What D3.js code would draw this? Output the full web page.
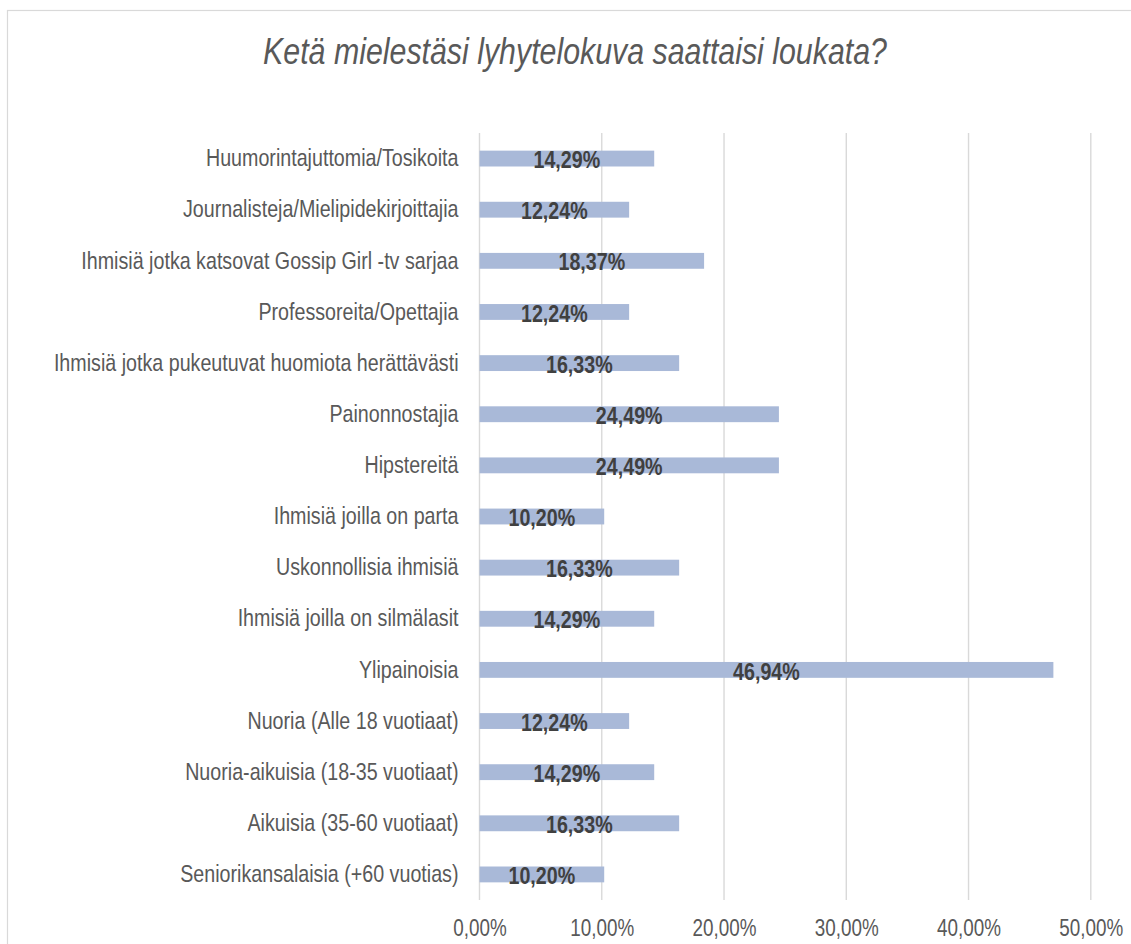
<!DOCTYPE html>
<html>
<head>
<meta charset="utf-8">
<script src="https://cdn.jsdelivr.net/npm/d3@7"></script>
<style>
  body { margin: 0; background: #fff; }
  svg { display: block; }
</style>
</head>
<body>
<div id="chart"></div>
<script>
// chart data
var categories = [
    "Huumorintajuttomia/Tosikoita",
    "Journalisteja/Mielipidekirjoittajia",
    "Ihmisiä jotka katsovat Gossip Girl -tv sarjaa",
    "Professoreita/Opettajia",
    "Ihmisiä jotka pukeutuvat huomiota herättävästi",
    "Painonnostajia",
    "Hipstereitä",
    "Ihmisiä joilla on parta",
    "Uskonnollisia ihmisiä",
    "Ihmisiä joilla on silmälasit",
    "Ylipainoisia",
    "Nuoria (Alle 18 vuotiaat)",
    "Nuoria-aikuisia (18-35 vuotiaat)",
    "Aikuisia (35-60 vuotiaat)",
    "Seniorikansalaisia (+60 vuotias)"
];
var values = [0.1429, 0.1224, 0.1837, 0.1224, 0.1633, 0.2449, 0.2449, 0.1020,
              0.1633, 0.1429, 0.4694, 0.1224, 0.1429, 0.1633, 0.1020];
var tickValues = [0, 0.1, 0.2, 0.3, 0.4, 0.5];
var title = "Ketä mielestäsi lyhytelokuva saattaisi loukata?";

var width = 1131, height = 944;
var plot = {left: 479.5, right: 1090.8, top: 133, bottom: 900};
// no narrow font installed: squeeze Liberation Sans horizontally instead
var font = "'Liberation Sans', Arial, sans-serif";
var narrow = "scale(0.82,1)";

// finnish style percent: 14,29%
var fi = d3.formatLocale({decimal: ",", thousands: " ", grouping: [3], currency: ["", " €"]});
var pct = fi.format(".2%");

var svg = d3.select("#chart")
    .append("svg")
    .attr("width", width)
    .attr("height", height);

// chart frame
svg.append("rect")
    .attr("x", 7.5).attr("y", 10.5)
    .attr("width", 1135).attr("height", 945)
    .attr("fill", "#fff")
    .attr("stroke", "#d9d9d9")
    .attr("stroke-width", 1.2);

var x = d3.scaleLinear()
    .domain([0, 0.5])
    .range([plot.left, plot.right]);

var y = d3.scaleBand()
    .domain(categories)
    .range([plot.top, plot.bottom])
    .paddingInner(0.69)
    .paddingOuter(0.345);

// vertical gridlines
svg.append("g")
    .selectAll("line")
    .data(tickValues)
    .enter()
    .append("line")
    .attr("x1", function(d) { return x(d); })
    .attr("x2", function(d) { return x(d); })
    .attr("y1", plot.top)
    .attr("y2", plot.bottom)
    .attr("stroke", "#d9d9d9")
    .attr("stroke-width", 1.4);

// bars
svg.append("g")
    .selectAll("rect")
    .data(values)
    .enter()
    .append("rect")
    .attr("x", x(0))
    .attr("y", function(d, i) { return y(categories[i]); })
    .attr("width", function(d) { return x(d) - x(0); })
    .attr("height", y.bandwidth())
    .attr("fill", "#a9b9d8");

// data labels, centred in bar
svg.append("g")
    .selectAll("text")
    .data(values)
    .enter()
    .append("text")
    .attr("transform", function(d, i) {
        var cx = (x(0) + x(d)) / 2,
            cy = y(categories[i]) + y.bandwidth() / 2 + 1;
        return "translate(" + cx + "," + cy + ") " + narrow;
    })
    .attr("dy", "0.36em")
    .attr("text-anchor", "middle")
    .attr("font-family", font)
    .attr("font-weight", "bold")
    .attr("font-size", "24px")
    .attr("fill", "#404040")
    .text(function(d) { return pct(d); });

// category labels
var yAxis = svg.append("g")
    .attr("transform", "translate(" + (plot.left - 21) + ",0)")
    .call(d3.axisLeft(y).tickSize(0).tickPadding(0));
yAxis.select(".domain").remove();
yAxis.selectAll("text")
    .attr("transform", narrow)
    .attr("font-family", font)
    .attr("font-size", "24px")
    .attr("fill", "#595959");

// x axis tick labels
var xAxis = svg.append("g")
    .attr("transform", "translate(0," + plot.bottom + ")")
    .call(d3.axisBottom(x).tickValues(tickValues).tickFormat(pct).tickSize(0).tickPadding(20));
xAxis.select(".domain").remove();
xAxis.selectAll("text")
    .attr("transform", narrow)
    .attr("font-family", font)
    .attr("font-size", "23px")
    .attr("fill", "#595959");

// title
svg.append("text")
    .attr("transform", "translate(575,64) " + narrow)
    .attr("text-anchor", "middle")
    .attr("font-family", font)
    .attr("font-style", "italic")
    .attr("font-size", "37px")
    .attr("fill", "#595959")
    .text(title);
</script>
</body>
</html>
